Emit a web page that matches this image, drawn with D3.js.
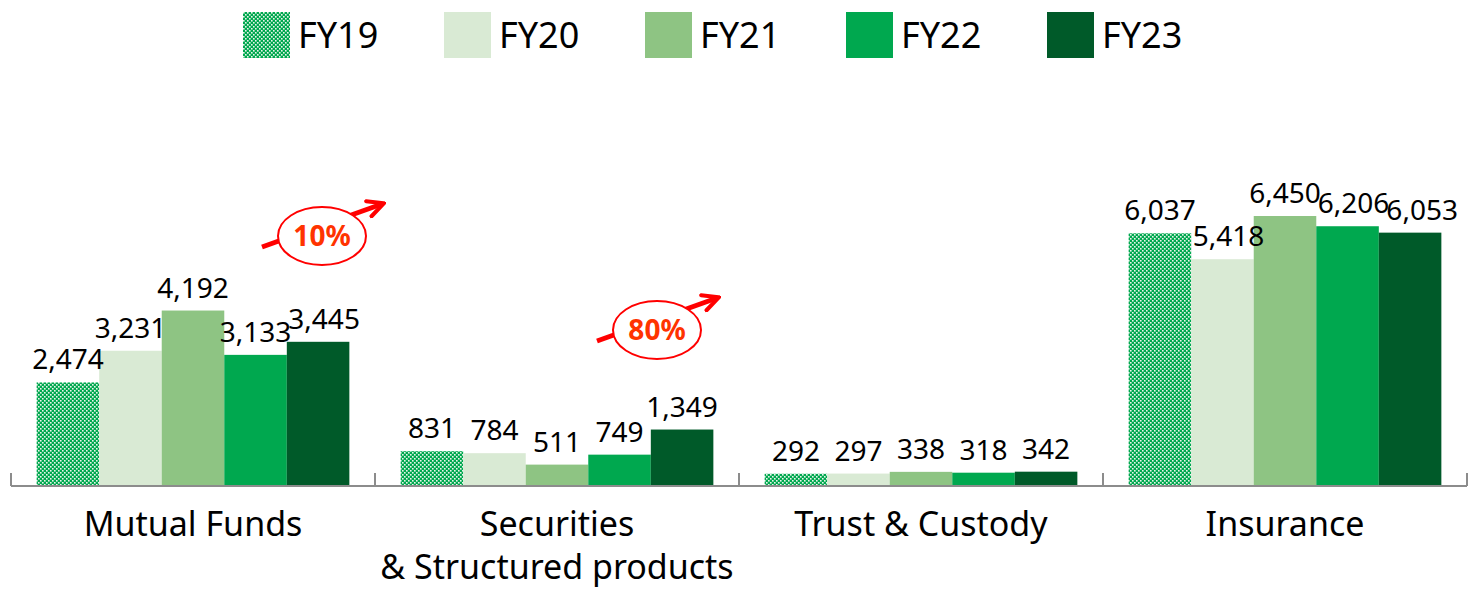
<!DOCTYPE html>
<html>
<head>
<meta charset="utf-8">
<title>Fee income by product</title>
<script src="https://d3js.org/d3.v7.min.js"></script>
<style>
  body { margin: 0; background: #fff; }
  text { font-family: "Noto Sans", "Open Sans", sans-serif; fill: #000; }
</style>
</head>
<body>
<div id="chart"></div>
<script>
// data
var categories = ["Mutual Funds", "Securities\n& Structured products", "Trust & Custody", "Insurance"];
var years = ["FY19", "FY20", "FY21", "FY22", "FY23"];
var fy19 = [2474, 831, 292, 6037];
var fy20 = [3231, 784, 297, 5418];
var fy21 = [4192, 511, 338, 6450];
var fy22 = [3133, 749, 318, 6206];
var fy23 = [3445, 1349, 342, 6053];
var growthCats = ["Mutual Funds", "Securities\n& Structured products"];
var growthLabels = ["10%", "80%"];

var series = [fy19, fy20, fy21, fy22, fy23];
var colors = ["url(#dots)", "#d9ead4", "#8ec483", "#00a84f", "#005a29"];

var width = 1478, height = 590;
var svg = d3.select("#chart").append("svg")
    .attr("width", width)
    .attr("height", height);

// checker pattern for FY19
var defs = svg.append("defs");
var pat = defs.append("pattern")
    .attr("id", "dots")
    .attr("patternUnits", "userSpaceOnUse")
    .attr("width", 4).attr("height", 4);
pat.append("rect").attr("width", 4).attr("height", 4).attr("fill", "#00a84f");
pat.append("rect").attr("x", 0).attr("y", 0).attr("width", 1.6).attr("height", 1.6).attr("fill", "#e8f5ea");
pat.append("rect").attr("x", 2).attr("y", 2).attr("width", 1.6).attr("height", 1.6).attr("fill", "#e8f5ea");

var x0 = d3.scaleBand().domain(categories).range([11, 1467]).paddingInner(0).paddingOuter(0);
var x1 = d3.scaleBand().domain(years).range([0, x0.bandwidth()]).paddingInner(0).paddingOuter(0.41);
var y = d3.scaleLinear().domain([0, 7000]).range([486, 193]);

var fmt = d3.format(",");

// bars
var data = [];
categories.forEach(function(c, ci) {
  years.forEach(function(yr, si) {
    data.push({cat: c, year: yr, si: si, v: series[si][ci]});
  });
});

svg.append("g").selectAll("rect")
  .data(data)
  .enter().append("rect")
    .attr("x", function(d) { return x0(d.cat) + x1(d.year); })
    .attr("y", function(d) { return y(d.v); })
    .attr("width", x1.bandwidth())
    .attr("height", function(d) { return y(0) - y(d.v); })
    .attr("fill", function(d) { return colors[d.si]; });

// axis line with ticks between categories
var axis = svg.append("g").attr("transform", "translate(0," + y(0) + ")");
axis.append("line")
    .attr("x1", 11).attr("x2", 1467)
    .attr("stroke", "#8c8c8c").attr("stroke-width", 2);
var bounds = categories.map(function(c) { return x0(c); }).concat([x0.range()[1]]);
axis.selectAll(".tk").data(bounds).enter().append("line")
    .attr("x1", function(d) { return d; }).attr("x2", function(d) { return d; })
    .attr("y1", -13).attr("y2", 0)
    .attr("stroke", "#8c8c8c").attr("stroke-width", 2);

// category labels
axis.selectAll(".cat").data(categories).enter().append("text")
    .attr("text-anchor", "middle")
    .attr("font-size", 34)
    .attr("x", function(d) { return x0(d) + x0.bandwidth() / 2; })
    .attr("y", 50)
    .each(function(d) {
      var t = d3.select(this);
      d.split("\n").forEach(function(line, i) {
        t.append("tspan")
          .attr("x", x0(d) + x0.bandwidth() / 2)
          .attr("dy", i === 0 ? 0 : 43)
          .text(line);
      });
    });

// value labels, nudged right when they bump into the previous one
var labels = svg.append("g").selectAll("text")
  .data(data)
  .enter().append("text")
    .attr("text-anchor", "middle")
    .attr("font-size", 28)
    .attr("x", function(d) { return x0(d.cat) + x1(d.year) + x1.bandwidth() / 2; })
    .attr("y", function(d) { return y(d.v) - 13; })
    .text(function(d) { return fmt(d.v); });

var prev = null;
labels.each(function(d) {
  var b = this.getBBox();
  if (prev && prev.cat === d.cat) {
    var vOverlap = b.y < prev.b.y + prev.b.height - 8 && b.y + b.height - 8 > prev.b.y;
    var shift = prev.b.x + prev.b.width - 3 - b.x;
    if (vOverlap && shift > 0) {
      d3.select(this).attr("x", +d3.select(this).attr("x") + shift);
      b = this.getBBox();
    }
  }
  prev = {cat: d.cat, b: b};
});

// growth callouts
var ann = svg.append("g").selectAll("g")
  .data(growthCats)
  .enter().append("g")
    .attr("transform", function(c, i) {
      var cx = x0(c) + (i === 0 ? 311 : 282);
      var cy = i === 0 ? 236 : 330;
      return "translate(" + cx + "," + cy + ")";
    });

defs.append("marker")
    .attr("id", "head")
    .attr("viewBox", "0 0 10 10")
    .attr("refX", 8).attr("refY", 5)
    .attr("markerWidth", 4).attr("markerHeight", 4)
    .attr("orient", "auto")
  .append("path")
    .attr("d", "M1,1 L9,5 L1,9")
    .attr("fill", "none")
    .attr("stroke", "#ff0000")
    .attr("stroke-width", 2)
    .attr("stroke-linecap", "round");

ann.append("line")
    .attr("x1", -60).attr("y1", 11)
    .attr("x2", 60).attr("y2", -32)
    .attr("stroke", "#ff0000")
    .attr("stroke-width", 5)
    .attr("marker-end", "url(#head)");
ann.append("ellipse")
    .attr("rx", 44).attr("ry", 29)
    .attr("fill", "#fff")
    .attr("stroke", "#ff0000")
    .attr("stroke-width", 2);
ann.append("text")
    .attr("text-anchor", "middle")
    .attr("dy", "0.36em")
    .attr("font-size", 28)
    .attr("font-weight", "bold")
    .style("fill", "#ff3300")
    .text(function(c, i) { return growthLabels[i]; });

// legend
var legStep = 201;
var leg = svg.append("g").selectAll("g")
  .data(years)
  .enter().append("g")
    .attr("transform", function(d, i) { return "translate(" + (243 + i * legStep) + ",12)"; });
leg.append("rect")
    .attr("width", 47).attr("height", 46)
    .attr("fill", function(d, i) { return colors[i]; });
leg.append("text")
    .attr("x", 55).attr("y", 23)
    .attr("dy", "0.36em")
    .attr("font-size", 36)
    .text(function(d) { return d; });
</script>
</body>
</html>
